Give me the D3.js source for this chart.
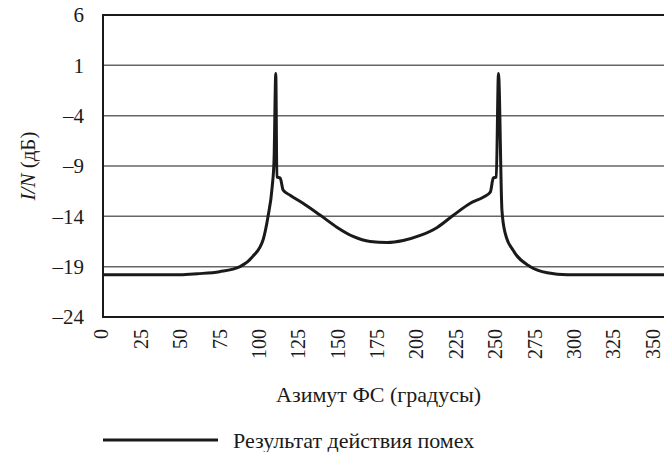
<!DOCTYPE html>
<html>
<head>
<meta charset="utf-8">
<script src="https://cdn.jsdelivr.net/npm/d3@7"></script>
<style>
  body { margin: 0; background: #fff; }
  svg { display: block; }
  svg text { font-family: "Liberation Serif", "Times New Roman", Tinos, "Nimbus Roman", "DejaVu Serif", serif; }
</style>
</head>
<body>
<svg id="chart" width="664" height="452"></svg>
<script>
// azimuth of the FS (degrees)
var azimuth = [0, 30, 49, 60, 74, 87, 95, 101.7, 104.8, 107.4, 108.6, 109.7, 110.4, 112.5, 114.4, 118.8,
               127, 138, 148.7, 158.8, 169.6, 180.4, 190.6, 201.4, 212.2, 222.4, 233.2, 241.4, 245.9,
               247.8, 249.7, 251.1, 253.3, 255.4, 260.5, 271.3, 282.1, 294.8, 320, 360];

// I/N (dB)
var interference = [-19.8, -19.8, -19.8, -19.7, -19.5, -19.0, -18.0, -16.3, -14.0, -11.1, -8.4, 0.2, -10.1, -10.2, -11.4, -11.9,
                    -12.7, -13.9, -15.1, -16.0, -16.5, -16.6, -16.4, -15.9, -15.1, -13.9, -12.7, -12.1, -11.6,
                    -10.2, -10.1, 0.2, -13.4, -15.7, -17.4, -19.0, -19.6, -19.8, -19.8, -19.8];

// tick labels
var xTicks = [0, 25, 50, 75, 100, 125, 150, 175, 200, 225, 250, 275, 300, 325, 350];
var yTicks = [6, 1, -4, -9, -14, -19, -24];
var gridTicks = [1, -4, -9, -14, -19];

var seriesName = "Результат действия помех";
var xTitle = "Азимут ФС (градусы)";

var svg = d3.select("#chart"),
    fontSize = 21,
    titleSize = 22;

var x = d3.scaleLinear()
          .domain([0, 360])
          .range([103, 670]);

var y = d3.scaleLinear()
          .domain([-24, 6])
          .range([317, 15]);

// grid lines
svg.append("g")
   .selectAll("line")
   .data(gridTicks)
   .enter()
   .append("line")
   .attr("x1", x(0))
   .attr("x2", x(360))
   .attr("y1", function(d) { return y(d); })
   .attr("y2", function(d) { return y(d); })
   .attr("stroke", "#666")
   .attr("stroke-width", 1.5);

// frame
svg.append("rect")
   .attr("x", x(0))
   .attr("y", y(6))
   .attr("width", x(360) - x(0))
   .attr("height", y(-24) - y(6))
   .attr("fill", "none")
   .attr("stroke", "#1a1a1a")
   .attr("stroke-width", 2);

// y axis
var yAxis = svg.append("g")
   .attr("transform", "translate(" + x(0) + ",0)")
   .call(d3.axisLeft(y)
           .tickValues(yTicks)
           .tickSize(0)
           .tickPadding(19)
           .tickFormat(function(d) { return d < 0 ? "–" + Math.abs(d) : d; }));
yAxis.select(".domain").remove();
yAxis.selectAll("text")
     .attr("font-size", fontSize)
     .attr("fill", "#1a1a1a");

// x axis (labels turned upright)
var xAxis = svg.append("g")
   .attr("transform", "translate(0," + y(-24) + ")")
   .call(d3.axisBottom(x)
           .tickValues(xTicks)
           .tickSize(0));
xAxis.select(".domain").remove();
xAxis.selectAll("text")
     .attr("font-size", 20)
     .attr("fill", "#1a1a1a")
     .attr("transform", "rotate(-90)")
     .attr("text-anchor", "end")
     .attr("x", -12)
     .attr("y", -1.5)
     .attr("dy", "0.32em");

// curve
var line = d3.line()
             .x(function(d, i) { return x(azimuth[i]); })
             .y(function(d) { return y(d); })
             .curve(d3.curveMonotoneX);

svg.append("path")
   .datum(interference)
   .attr("fill", "none")
   .attr("stroke", "#1a1a1a")
   .attr("stroke-width", 3)
   .attr("stroke-linejoin", "round")
   .attr("d", line);

// axis titles
svg.append("text")
   .attr("x", x(175))
   .attr("y", 402)
   .attr("text-anchor", "middle")
   .attr("font-size", titleSize)
   .attr("fill", "#1a1a1a")
   .text(xTitle);

var yTitle = svg.append("text")
   .attr("transform", "translate(35," + y(-9) + ") rotate(-90)")
   .attr("text-anchor", "middle")
   .attr("font-size", fontSize)
   .attr("fill", "#1a1a1a");
yTitle.append("tspan").attr("font-style", "italic").text("I/N");
yTitle.append("tspan").text(" (дБ)");

// legend
var legend = svg.append("g").attr("transform", "translate(103,440)");
legend.append("line")
      .attr("x1", 0)
      .attr("x2", 115)
      .attr("stroke", "#1a1a1a")
      .attr("stroke-width", 3);
legend.append("text")
      .attr("x", 130)
      .attr("dy", "0.35em")
      .attr("font-size", titleSize)
      .attr("fill", "#1a1a1a")
      .text(seriesName);
</script>
</body>
</html>
